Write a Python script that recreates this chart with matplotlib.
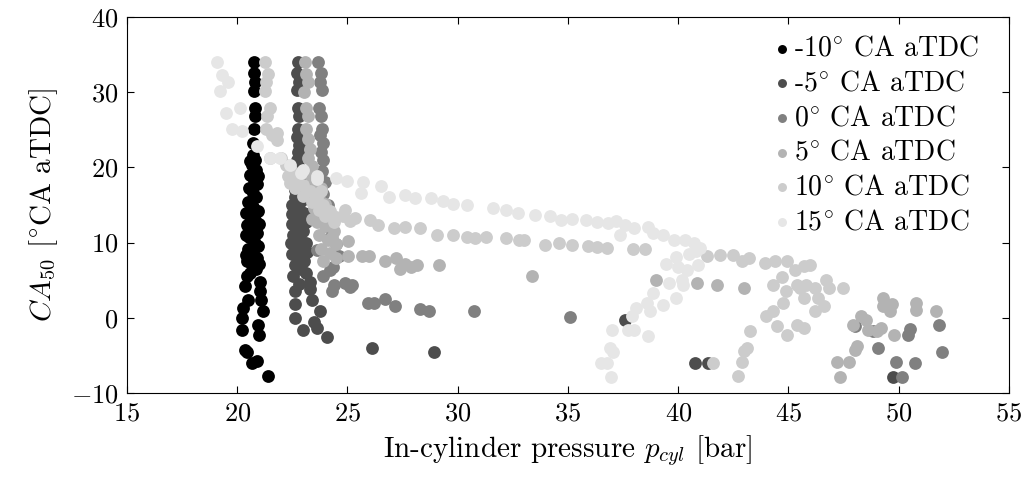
import numpy as np
import matplotlib
matplotlib.use('Agg')
import matplotlib.pyplot as plt
from matplotlib import rcParams

rcParams.update({'font.family': 'serif', 'font.serif': ['cmr10'],
                 'mathtext.fontset': 'cm', 'axes.formatter.use_mathtext': True,
                 'font.size': 20})

LABELS = [r'-10$^{\circ}$ CA aTDC', r'-5$^{\circ}$ CA aTDC', r'0$^{\circ}$ CA aTDC',
          r'5$^{\circ}$ CA aTDC', r'10$^{\circ}$ CA aTDC', r'15$^{\circ}$ CA aTDC']
COLORS = ['#000000', '#4d4d4d', '#808080', '#b3b3b3', '#cccccc', '#e6e6e6']

# -10 deg CA aTDC
P_M10 = [20.75, 20.75, 20.8, 20.75, 20.8, 20.8, 20.75, 20.7,
         20.7, 20.8, 20.65, 20.85, 20.6, 20.75, 20.9, 20.55, 20.7, 20.85, 20.5, 20.7,
         20.95, 20.6, 20.8, 20.45, 20.7, 20.9, 20.55, 20.75, 20.95, 20.5, 20.7, 20.9,
         20.45, 20.65, 20.85, 20.6, 20.4, 21.0, 20.4, 20.95, 20.6, 20.4, 21.0,
         20.43, 21.03, 20.35, 21.03, 21.1, 20.5, 20.28, 21.18, 20.2, 20.2, 20.95, 21.0,
         20.35, 20.45, 20.65, 20.9, 21.4]
CA_M10 = [34.0, 32.5, 31.4, 30.1, 27.9, 26.9, 25.1, 23.2,
          21.7, 21.0, 20.3, 19.6, 19.0, 18.3, 17.8, 17.2, 16.6, 16.0, 15.4, 14.8,
          14.2, 13.6, 13.0, 12.4, 11.9, 11.3, 10.8, 10.2, 9.6, 9.1, 8.6, 8.0,
          7.5, 7.0, 6.5, 6.0, 11.0, 12.5, 14.0, 18.9, 20.8, 8.3, 7.2,
          5.5, 4.8, 4.2, 3.5, 2.4, 2.4, 1.3, 0.85, -0.05, -1.6, -0.9, -2.3,
          -4.3, -4.6, -6.0, -5.8, -7.8]

# -5 deg CA aTDC
P_M5 = [22.75, 22.7, 22.8, 22.7, 22.75, 22.8, 22.75, 22.7, 22.8, 22.75, 22.7, 22.8,
        22.7, 22.85, 22.6,
        22.6, 22.9, 22.5, 22.8, 23.05, 22.6, 22.9, 22.5, 22.75, 23.0, 22.55, 22.85,
        23.1, 22.6, 22.9, 22.5, 22.8, 23.05, 22.6, 22.9, 23.1, 22.45, 22.5, 23.1, 23.15,
        22.55, 23.3, 22.6, 23.38, 22.6, 23.75, 22.6, 23.0, 23.6, 24.06, 23.3, 22.8, 23.5,
        26.1, 28.92, 37.6, 40.76, 41.35, 49.72]
CA_M5 = [34.0, 32.5, 31.3, 30.3, 27.9, 26.9, 25.1, 24.0, 23.0, 22.0, 21.0, 20.0,
         19.0, 18.0, 17.0,
         16.0, 15.5, 15.0, 14.5, 14.0, 13.5, 13.0, 12.5, 12.0, 11.5, 11.0, 10.5,
         10.0, 9.5, 9.0, 8.5, 8.0, 7.5, 7.0, 6.5, 6.0, 10.0, 13.8, 12.8, 8.8,
         5.5, 4.8, 3.5, 2.4, 1.9, 0.85, 0.0, -1.6, -1.4, -2.5, 3.8, 4.5, -0.5,
         -4.0, -4.6, -0.3, -6.0, -6.0, -7.9]

# 0 deg CA aTDC
P_0 = [23.68, 23.8, 23.75, 23.85, 23.7, 23.8, 23.85, 23.75, 23.9, 23.8, 23.9, 23.85,
       24.0, 23.9, 24.1, 24.0, 24.2, 24.1, 23.6, 24.36, 23.9, 24.9, 25.2, 24.3, 24.5,
       24.6, 24.2, 24.4, 25.1,
       25.95, 26.2, 26.7, 27.15, 28.3, 28.7, 30.75, 35.1,
       48.0, 48.85, 49.07, 49.87, 50.17, 50.5, 50.43, 50.74, 51.84, 51.95]
CA_0 = [34.0, 32.5, 31.3, 30.3, 27.9, 26.9, 25.1, 24.3, 23.3, 22.0, 21.0, 19.5,
        18.0, 16.5, 15.0, 13.5, 12.0, 10.5, 9.0, 6.8, 5.5, 4.6, 4.3, 3.6, 9.8,
        8.2, 6.4, 4.4, 4.1,
        1.95, 1.95, 2.5, 1.6, 1.15, 0.85, 0.85, 0.05,
        -1.15, -1.8, -4.0, -5.9, -7.9, -1.5, -2.3, -6.0, -1.0, -4.6]

# 5 deg CA aTDC
P_5 = [23.07, 23.1, 23.2, 23.05, 23.1, 23.2, 23.1, 23.2, 23.3, 23.2, 23.4, 23.3,
       23.5, 23.8, 23.4, 23.7, 24.0, 23.5, 23.9, 24.2, 23.6, 24.0, 24.4, 23.7, 24.1,
       24.5, 23.8, 24.2, 24.5, 23.9, 24.3, 23.4,
       25.04, 25.04, 25.64, 25.98, 26.7, 27.2, 27.6, 27.4, 28.14, 27.9, 29.15, 33.35,
       39.0, 40.84, 41.74, 43.0,
       49.3, 49.3, 49.68, 49.6, 50.78, 50.8, 51.7, 49.8, 48.3, 48.5, 47.94, 48.6,
       49.0, 49.2, 48.1, 48.0, 47.74, 47.18, 47.34]
CA_5 = [34.0, 32.4, 31.3, 30.0, 27.9, 26.9, 25.1, 23.8, 22.5, 21.3, 20.2, 19.0,
        18.0, 17.2, 16.5, 15.8, 15.2, 14.6, 14.0, 13.4, 12.8, 12.2, 11.6, 11.0, 10.4,
        9.8, 9.2, 8.6, 8.0, 7.6, 10.8, 13.2,
        10.2, 8.2, 8.2, 8.2, 7.5, 7.9, 7.2, 6.5, 7.05, 6.7, 7.05, 5.5,
        5.05, 4.6, 4.4, 3.9,
        2.6, 1.6, 1.9, 0.9, 1.95, 1.1, 0.85, -2.35, 0.2, -0.3, -0.9, -1.6,
        -1.8, -1.4, -3.8, -4.3, -5.9, -5.9, -7.9]

# 10 deg CA aTDC
P_10 = [21.26, 21.4, 21.3, 21.25, 21.5, 21.35, 21.3, 21.6, 21.8, 21.8, 21.5, 22.0,
        22.2, 22.5, 22.3, 22.7, 23.0, 22.6, 23.3, 23.0, 23.6, 23.4, 23.9, 23.7, 24.2,
        24.0, 24.5, 24.4, 22.4, 23.8, 24.8, 25.1,
        24.9, 25.34, 26.0, 26.4, 27.1, 27.6, 28.3, 29.05, 29.8, 30.4, 30.8, 31.3, 32.2,
        32.8, 33.0, 33.96, 34.6, 35.2, 35.9, 36.3, 36.75, 37.93, 38.5,
        41.3, 41.9, 42.5, 42.9, 43.2, 43.93, 44.4, 44.95, 45.3, 45.7, 45.98,
        44.7, 44.28, 44.9, 45.37, 45.5, 45.8, 46.2, 46.7, 46.85, 47.48, 46.35, 46.6,
        46.2, 45.7, 44.76, 44.3, 44.0, 44.46, 44.95, 45.4, 45.7, 43.25, 43.1, 43.0,
        42.9, 42.7, 41.56]
CA_10 = [34.0, 32.4, 31.4, 30.1, 27.9, 26.9, 25.1, 24.3, 24.6, 23.6, 21.2, 21.2,
         20.3, 19.5, 18.8, 18.2, 17.6, 17.3, 16.8, 16.2, 16.0, 15.4, 15.0, 14.4, 14.2,
         13.6, 13.4, 12.8, 17.9, 16.8, 13.6, 12.9,
         14.4, 13.3, 13.0, 12.3, 11.9, 12.1, 11.9, 11.0, 11.0, 10.8, 10.6, 10.8, 10.6,
         10.4, 10.4, 9.7, 9.9, 9.7, 9.5, 9.4, 9.3, 9.1, 9.1,
         8.2, 8.3, 8.3, 7.6, 7.9, 7.3, 7.5, 7.6, 6.4, 6.9, 7.0,
         5.4, 4.4, 3.6, 4.4, 3.9, 4.4, 3.9, 5.05, 3.9, 4.0, 2.6, 1.6,
         0.85, 2.6, 1.95, 0.85, 0.2, -1.15, -2.3, -0.9, -1.4, -1.8, -4.0, -4.4,
         -5.9, -7.8, -6.0]

# 15 deg CA aTDC
P_15 = [19.07, 19.3, 19.6, 19.2, 19.5, 20.12, 19.75, 20.2, 20.9, 21.5, 21.94, 22.4,
        23.0, 23.6,
        22.9, 23.6, 24.5, 25.0, 25.7, 25.6, 26.5, 26.9, 27.6, 28.06, 28.8, 29.35, 29.8,
        30.4, 31.6, 32.2, 32.75, 33.5, 34.2, 34.7, 35.2, 35.8, 36.3, 36.83, 37.2, 37.6,
        37.36, 38.0, 38.64, 38.86, 39.32, 39.8, 40.3, 40.7, 41.0, 40.8, 40.5, 39.9,
        39.45, 40.0, 40.9, 40.4, 40.15, 40.2, 39.6, 38.87, 39.9, 39.3, 38.57, 38.1,
        38.7, 37.9, 37.73, 38.0, 38.64, 36.98, 36.9, 37.05, 36.5, 36.75, 36.93]
CA_15 = [34.0, 32.3, 31.4, 30.1, 27.2, 27.9, 25.1, 24.8, 22.8, 21.2, 21.2, 20.3,
         19.7, 18.8,
         19.2, 18.5, 18.6, 18.2, 18.1, 16.6, 17.5, 16.1, 16.3, 15.9, 15.9, 15.5, 15.1,
         15.0, 14.6, 14.4, 13.9, 13.7, 13.5, 13.0, 13.2, 13.0, 12.8, 12.6, 12.9, 12.4,
         11.0, 12.0, 12.1, 11.3, 11.0, 10.4, 10.3, 9.9, 9.3, 8.9, 8.5, 8.1,
         7.2, 6.7, 7.05, 6.4, 5.05, 4.3, 4.6, 3.3, 2.6, 1.7, 1.95, 1.3,
         0.9, 0.3, -1.6, -1.6, -2.4, -1.6, -4.0, -4.6, -6.0, -6.0, -7.9]

SERIES = [(P_M10, CA_M10), (P_M5, CA_M5), (P_0, CA_0),
          (P_5, CA_5), (P_10, CA_10), (P_15, CA_15)]

FIG = plt.figure(figsize=(10.28, 4.79), dpi=100)
ax = FIG.add_axes([0.1235, 0.1795, 0.858, 0.785])

for (p, ca), col, lab in zip(SERIES, COLORS, LABELS):
    ax.scatter(p, ca, s=85, c=col, linewidths=0, label=lab, zorder=2)

ax.set_xlim(15, 55)
ax.set_ylim(-10, 40)
ax.set_xticks(np.arange(15, 56, 5))
ax.set_yticks(np.arange(-10, 41, 10))
ax.tick_params(direction='in', top=True, right=True, length=5, labelsize=19, pad=6)
for sp in ax.spines.values():
    sp.set_linewidth(0.8)

ax.set_xlabel(r'In-cylinder pressure $p_{cyl}$ [bar]', fontsize=21, labelpad=6)
ax.set_ylabel(r'$CA_{50}$ [$^{\circ}$CA aTDC]', fontsize=21, labelpad=8)

ax.legend(loc='upper right', frameon=False, markerscale=0.7, handletextpad=0.05,
          handlelength=0.8, labelspacing=0.3, fontsize=20, borderaxespad=0.2,
          bbox_to_anchor=(0.985, 0.995))

plt.savefig('out.png', dpi=100)
